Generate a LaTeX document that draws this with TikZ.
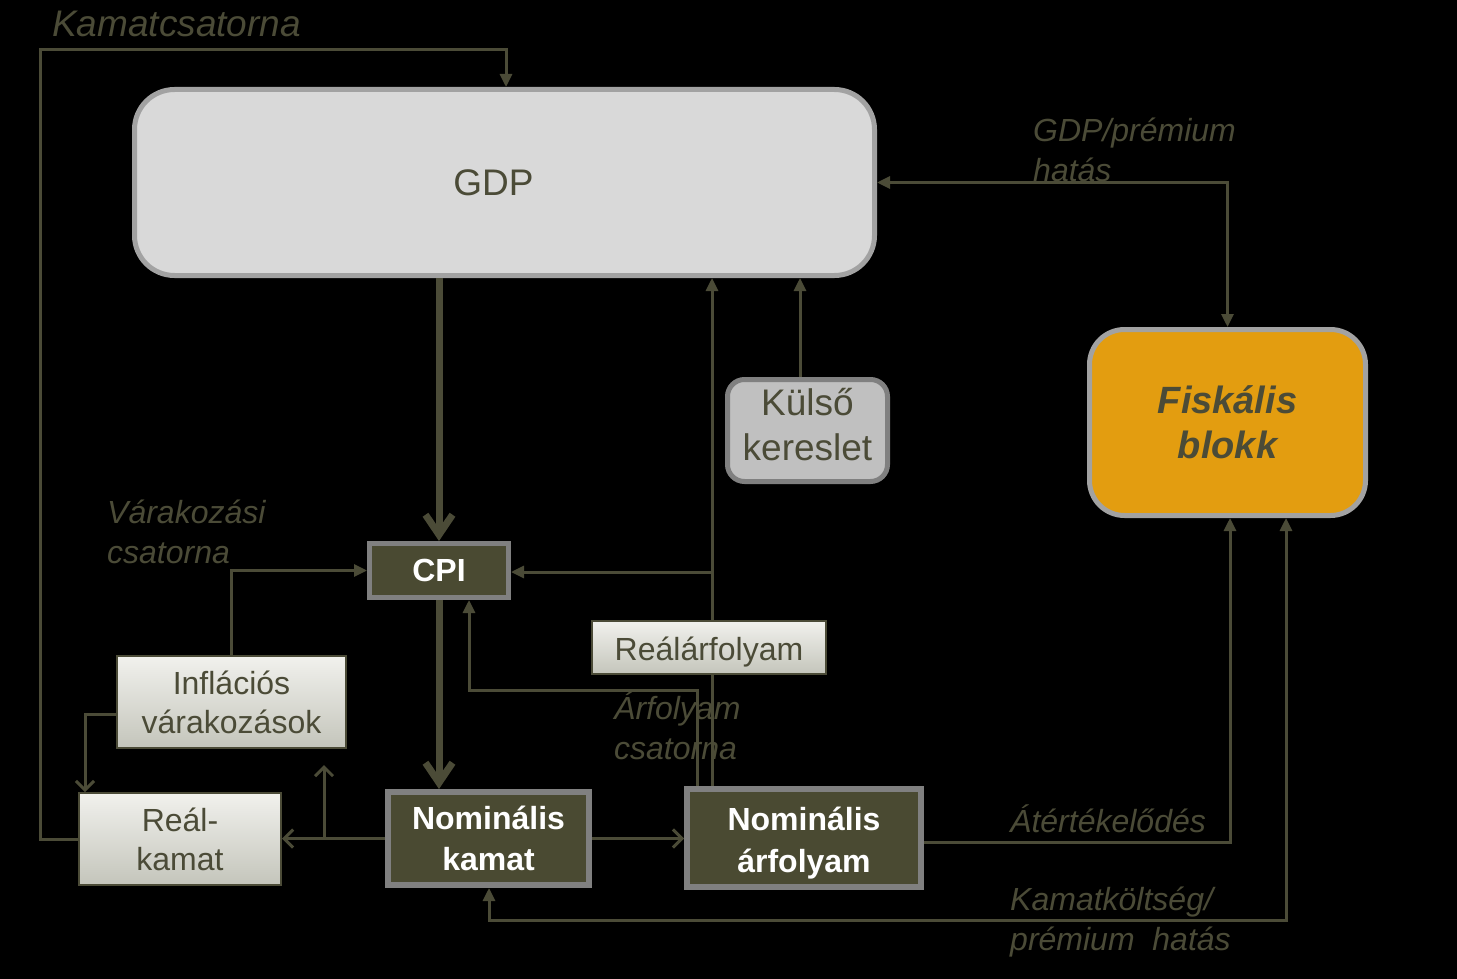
\documentclass[tikz,border=0pt]{standalone}
\usepackage{fontspec}
\setmainfont{Liberation Sans}
\usetikzlibrary{arrows.meta}
\definecolor{ol}{RGB}{75,75,55}
\definecolor{dk}{RGB}{74,74,50}
\definecolor{gb}{RGB}{128,128,128}
\definecolor{lgb}{RGB}{162,162,162}
\definecolor{gdpfill}{RGB}{217,217,217}
\definecolor{orangefill}{RGB}{227,157,16}
\definecolor{kfill}{RGB}{192,192,192}
\definecolor{gtop}{RGB}{241,241,237}
\definecolor{gbot}{RGB}{196,197,187}
\begin{document}
\begin{tikzpicture}[x=1pt,y=-1pt,
  conn/.style={draw=ol, line width=3pt},
  fa/.style={-{Triangle[length=13pt,width=12pt]}},
  fab/.style={{Triangle[length=13pt,width=12pt]}-{Triangle[length=13pt,width=12pt]}},
  va/.style={-{Straight Barb[length=9pt,width=18pt]}},
  bigarrow/.style={draw=ol, line width=7pt, -{Straight Barb[length=20pt,width=27pt]}},
  lab/.style={font=\itshape\fontsize{32}{40}\selectfont, text=ol, inner sep=0pt, align=left, anchor=west},
  gradbox/.style={draw=ol, line width=2pt, top color=gtop, bottom color=gbot, text=ol, align=center, inner sep=0pt, font=\fontsize{32}{39}\selectfont},
  darkbox/.style={draw=gb, line width=6pt, fill=dk, text=white, align=center, inner sep=0pt, font=\bfseries\fontsize{32}{41}\selectfont}
]
\fill[black] (0,0) rectangle (1457,979);
\useasboundingbox (0,0) rectangle (1457,979);

% nodes
\node[draw=lgb, line width=5pt, fill=gdpfill, rounded corners=40pt, minimum width=740pt, minimum height=186pt, text=ol, font=\fontsize{37}{44}\selectfont] (gdp) at (504.5,182.5) {GDP\kern22pt\null};
\node[draw=lgb, line width=5pt, fill=orangefill, rounded corners=35pt, minimum width=276pt, minimum height=186pt, text=ol, align=center, inner sep=0pt, font=\bfseries\itshape\fontsize{38}{45}\selectfont] (fisk) at (1227.5,422.5) {Fiskális\\blokk};
\node[draw=gb, line width=5pt, fill=kfill, rounded corners=17pt, minimum width=160pt, minimum height=102pt, text=ol, align=center, inner sep=0pt, font=\fontsize{37}{45}\selectfont] (kulso) at (807.5,430.5) {Külső\\kereslet\rule[-13pt]{0pt}{0pt}};
\node[draw=gb, line width=5pt, fill=dk, minimum width=139pt, minimum height=54pt, text=white, inner sep=0pt, font=\bfseries\fontsize{32}{38}\selectfont] (cpi) at (439,570.5) {CPI};
\node[gradbox, minimum width=234pt, minimum height=53pt] (ra) at (709,647.5) {\rule{0pt}{32pt}Reálárfolyam};
\node[gradbox, minimum width=229pt, minimum height=92pt] (inf) at (231.5,702) {Inflációs\\várakozások};
\node[gradbox, minimum width=202pt, minimum height=92pt] (rk) at (180,839) {Reál-\\kamat};
\node[darkbox, minimum width=201pt, minimum height=93pt] (nk) at (488.5,838.5) {Nominális\\kamat};
\node[darkbox, minimum width=234pt, minimum height=98pt, font=\bfseries\fontsize{32}{42}\selectfont] (na) at (804,838) {\rule{0pt}{33pt}Nominális\\árfolyam};

% labels
\node[lab, font=\itshape\fontsize{37}{44}\selectfont] (l1) at (52,24) {Kamatcsatorna};
\node[lab] (l2) at (1033,150) {GDP/prémium\\hatás};
\node[lab] (l3) at (107,532) {Várakozási\\csatorna};
\node[lab] (l4) at (614,726) {Árfolyam\\csatorna};
\node[lab] (l5) at (1010,819) {Átértékelődés};
\node[lab] (l6) at (1010,922) {Kamatköltség/\\prémium\ \ hatás};

% helper coordinates
\coordinate (kc1) at (40,50);
\coordinate (kc2) at (506,50);
\coordinate (ka) at (800,300);
\coordinate (j1) at (712,572);
\coordinate (j2) at (697,690);
\coordinate (j3) at (469,690);
\coordinate (j5) at (85,714);
\coordinate (j6) at (324,838.5);
\coordinate (j7) at (324,765);
\coordinate (j8) at (1230,842);
\coordinate (j9) at (1286,920);
\coordinate (j10) at (489,920);

% connectors
\draw[conn, fa] (rk.west) -| (kc1) -- (kc2) -- (kc2 |- gdp.north);
\draw[conn, fab] (gdp.east) -| (fisk.north);
\draw[conn, fa] (kulso.north -| ka) -- (ka |- gdp.south);
\draw[conn, fa] (ra.north -| j1) -- (j1 |- gdp.south);
\draw[conn, fa] (j1) -- (cpi.east |- j1);
\draw[conn] (na.north -| j1) -- (ra.south -| j1);
\draw[conn, fa] (na.north -| j2) -- (j2) -- (j3) -- (j3 |- cpi.south);
\draw[conn, fa] (inf.north) |- (cpi.west);
\draw[conn, va] (inf.west |- j5) -- (j5) -- (j5 |- rk.north);
\draw[conn, va] (nk.west) -- (rk.east |- nk.west);
\draw[conn, va] (j6) -- (j7);
\draw[conn, va] (nk.east) -- (na.west |- nk.east);
\draw[conn, fa] (na.east |- j8) -- (j8) -- (j8 |- fisk.south);
\draw[conn, fab] (j9 |- fisk.south) -- (j9) -- (j10) -- (j10 |- nk.south);
\draw[bigarrow] (gdp.south -| cpi.north) -- (cpi.north);
\draw[bigarrow] (cpi.south) -- (cpi.south |- nk.north);
\end{tikzpicture}
\end{document}
